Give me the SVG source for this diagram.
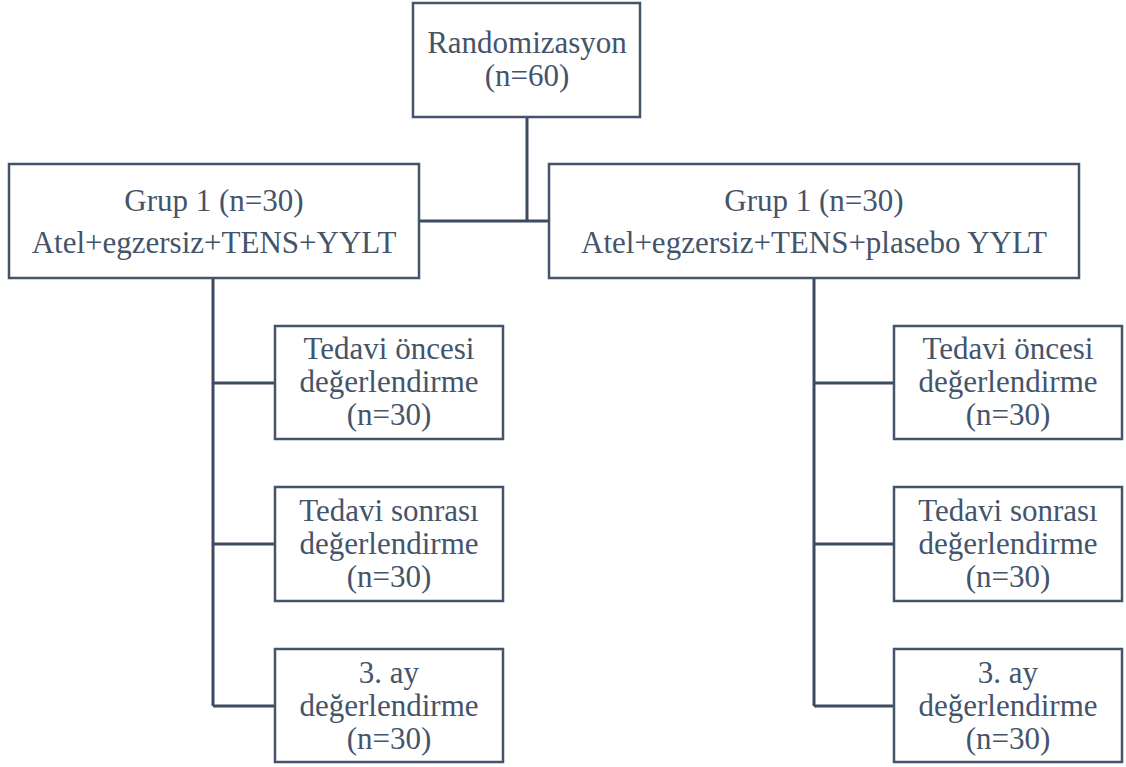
<svg xmlns="http://www.w3.org/2000/svg" width="1126" height="767" viewBox="0 0 1126 767">
<style>
.box{fill:#ffffff;stroke:#44546a;stroke-width:2.5}
.ln{fill:none;stroke:#3b4a60;stroke-width:3}
text{font-family:"Liberation Serif","Times New Roman",serif;font-size:31px;fill:#44546a;text-anchor:middle}
</style>
<rect width="1126" height="767" fill="#ffffff"/>
<g id="connectors">
<path class="ln" d="M527 117V221M419 221H549"/>
<path class="ln" d="M213 278V706M213 383H275M213 544H275M213 706H275"/>
<path class="ln" d="M814 278V706M814 383H894M814 544H894M814 706H894"/>
</g>
<g id="randomizasyon">
<rect class="box" x="413" y="3" width="227" height="114"/>
<text x="527" y="53">Randomizasyon</text>
<text x="527" y="86">(n=60)</text>
</g>
<g id="grup1a">
<rect class="box" x="9" y="164" width="410" height="114"/>
<text x="214" y="211">Grup 1 (n=30)</text>
<text x="214" y="253">Atel+egzersiz+TENS+YYLT</text>
</g>
<g id="grup1b">
<rect class="box" x="549" y="164" width="530" height="114"/>
<text x="814" y="211">Grup 1 (n=30)</text>
<text x="814" y="253">Atel+egzersiz+TENS+plasebo YYLT</text>
</g>
<g id="l1">
<rect class="box" x="275" y="326" width="228" height="113"/>
<text x="389" y="359">Tedavi öncesi</text>
<text x="389" y="392">değerlendirme</text>
<text x="389" y="425">(n=30)</text>
</g>
<g id="l2">
<rect class="box" x="275" y="487" width="228" height="114"/>
<text x="389" y="521">Tedavi sonrası</text>
<text x="389" y="554">değerlendirme</text>
<text x="389" y="587">(n=30)</text>
</g>
<g id="l3">
<rect class="box" x="275" y="649" width="228" height="113"/>
<text x="389" y="683">3. ay</text>
<text x="389" y="716">değerlendirme</text>
<text x="389" y="749">(n=30)</text>
</g>
<g id="r1">
<rect class="box" x="894" y="326" width="228" height="113"/>
<text x="1008" y="359">Tedavi öncesi</text>
<text x="1008" y="392">değerlendirme</text>
<text x="1008" y="425">(n=30)</text>
</g>
<g id="r2">
<rect class="box" x="894" y="487" width="228" height="114"/>
<text x="1008" y="521">Tedavi sonrası</text>
<text x="1008" y="554">değerlendirme</text>
<text x="1008" y="587">(n=30)</text>
</g>
<g id="r3">
<rect class="box" x="894" y="649" width="228" height="113"/>
<text x="1008" y="683">3. ay</text>
<text x="1008" y="716">değerlendirme</text>
<text x="1008" y="749">(n=30)</text>
</g>
</svg>
